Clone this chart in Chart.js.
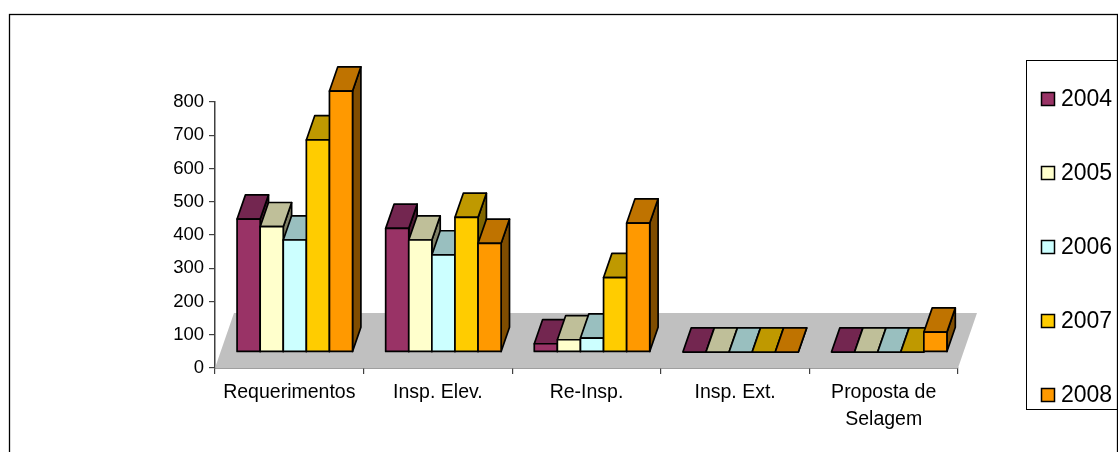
<!DOCTYPE html>
<html>
<head>
<meta charset="utf-8">
<title>Requerimentos e inspecções 2004-2008</title>
<script src="https://cdn.jsdelivr.net/npm/chart.js@4.4.0/dist/chart.umd.min.js"></script>
<style>
  html, body { margin: 0; padding: 0; background: #fff; }
  canvas { display: block; }
</style>
</head>
<body>
<canvas id="chart" width="1118" height="452"></canvas>
<script>
const categories = ['Requerimentos', 'Insp. Elev.', 'Re-Insp.', 'Insp. Ext.', ['Proposta de', 'Selagem']];
const years = ['2004', '2005', '2006', '2007', '2008'];
const values2004 = [400, 372, 25, 0, 0];
const values2005 = [377, 337, 37, 0, 0];
const values2006 = [337, 292, 42, 0, 0];
const values2007 = [638, 405, 224, 0, 0];
const values2008 = [785, 327, 388, 0, 60];
const yTicks = [0, 100, 200, 300, 400, 500, 600, 700, 800];

// face colours: front, top (darker) and right side (darkest)
const frontColors = ['#993366', '#FFFFCC', '#CCFFFF', '#FFCC00', '#FF9900'];
const topColors = ['#732650', '#BFBF99', '#99BFBF', '#BF9900', '#BF7300'];
const sideColors = ['#4D1A33', '#808066', '#668080', '#806600', '#804D00'];

// oblique depth of the floor, and where the bars sit inside it
const FLOOR_DX = 19, FLOOR_DY = -55;
const BAR_FRONT = 0.29, BAR_BACK = 0.73;

Chart.defaults.font.family = '"Liberation Sans", Arial, sans-serif';
Chart.defaults.color = '#000';

function poly(ctx, pts, fill) {
  ctx.beginPath();
  ctx.moveTo(pts[0][0], pts[0][1]);
  for (let k = 1; k < pts.length; k++) ctx.lineTo(pts[k][0], pts[k][1]);
  ctx.closePath();
  ctx.fillStyle = fill;
  ctx.fill();
  ctx.stroke();
}

// outer border of the chart object
const frame = {
  id: 'frame',
  beforeDraw(chart) {
    const ctx = chart.ctx;
    ctx.save();
    ctx.strokeStyle = '#000';
    ctx.lineWidth = 1.3;
    ctx.strokeRect(9.5, 14.5, 1108, 460);
    ctx.restore();
  }
};

// floor plus extruded columns, drawn from the bar elements' own geometry
const bars3d = {
  id: 'bars3d',
  beforeDatasetsDraw(chart) {
    const { ctx, chartArea, scales: { y } } = chart;
    const y0 = y.getPixelForValue(0);
    ctx.save();
    ctx.fillStyle = '#C0C0C0';
    ctx.beginPath();
    ctx.moveTo(chartArea.left, y0);
    ctx.lineTo(chartArea.right, y0);
    ctx.lineTo(chartArea.right + FLOOR_DX, y0 + FLOOR_DY);
    ctx.lineTo(chartArea.left + FLOOR_DX, y0 + FLOOR_DY);
    ctx.closePath();
    ctx.fill();

    const ox = FLOOR_DX * BAR_FRONT, oy = FLOOR_DY * BAR_FRONT;
    const dx = FLOOR_DX * (BAR_BACK - BAR_FRONT), dy = FLOOR_DY * (BAR_BACK - BAR_FRONT);
    ctx.lineWidth = 1.7;
    ctx.strokeStyle = '#000';
    ctx.lineJoin = 'round';
    for (let c = 0; c < categories.length; c++) {
      chart.data.datasets.forEach((ds, i) => {
        const bar = chart.getDatasetMeta(i).data[c];
        const l = bar.x - bar.width / 2 + ox, r = bar.x + bar.width / 2 + ox;
        const t = bar.y + oy, b = bar.base + oy;
        poly(ctx, [[r, t], [r, b], [r + dx, b + dy], [r + dx, t + dy]], sideColors[i]);
        poly(ctx, [[l, t], [r, t], [r + dx, t + dy], [l + dx, t + dy]], topColors[i]);
        if (b - t > 0.5) poly(ctx, [[l, t], [r, t], [r, b], [l, b]], frontColors[i]);
      });
    }
    ctx.restore();
    return false;
  }
};

// boxed legend on the right
const legendBox = {
  id: 'legendBox',
  afterDraw(chart) {
    const ctx = chart.ctx;
    ctx.save();
    ctx.strokeStyle = '#000';
    ctx.lineWidth = 1;
    ctx.strokeRect(1026.5, 60.5, 120, 349);
    ctx.font = '23px "Liberation Sans", Arial, sans-serif';
    ctx.textBaseline = 'middle';
    ctx.lineWidth = 1.5;
    chart.data.datasets.forEach((ds, i) => {
      const cy = 99 + i * 74;
      ctx.fillStyle = ds.backgroundColor;
      ctx.fillRect(1041.5, cy - 6.5, 13, 13);
      ctx.strokeRect(1041.5, cy - 6.5, 13, 13);
      ctx.fillStyle = '#000';
      ctx.fillText(ds.label, 1061, cy + 1);
    });
    ctx.restore();
  }
};

const allValues = [values2004, values2005, values2006, values2007, values2008];

new Chart(document.getElementById('chart'), {
  type: 'bar',
  data: {
    labels: categories,
    datasets: years.map((yr, i) => ({
      label: yr,
      data: allValues[i],
      backgroundColor: frontColors[i],
      barPercentage: 1,
      categoryPercentage: 0.777
    }))
  },
  options: {
    responsive: false,
    animation: false,
    layout: { padding: { top: 102, right: 160, left: 0, bottom: 0 } },
    plugins: { legend: { display: false }, tooltip: { enabled: false } },
    scales: {
      x: {
        z: 1,
        grid: { drawOnChartArea: false, tickLength: 6, color: '#404040', lineWidth: 1.2, offset: true },
        border: { color: '#404040', width: 1.5 },
        ticks: { font: { size: 19.5, lineHeight: 1.4 }, padding: 5, maxRotation: 0, autoSkip: false },
        afterFit(s) { s.height = 84; }
      },
      y: {
        z: 1,
        min: 0,
        max: 800,
        afterBuildTicks(s) { s.ticks = yTicks.map(v => ({ value: v })); },
        grid: { drawOnChartArea: false, tickLength: 6, color: '#404040', lineWidth: 1.2 },
        border: { color: '#404040', width: 1.5 },
        ticks: { font: { size: 18.5 }, padding: 5 },
        afterFit(s) { s.width = 215; }
      }
    }
  },
  plugins: [frame, bars3d, legendBox]
});
</script>
</body>
</html>
